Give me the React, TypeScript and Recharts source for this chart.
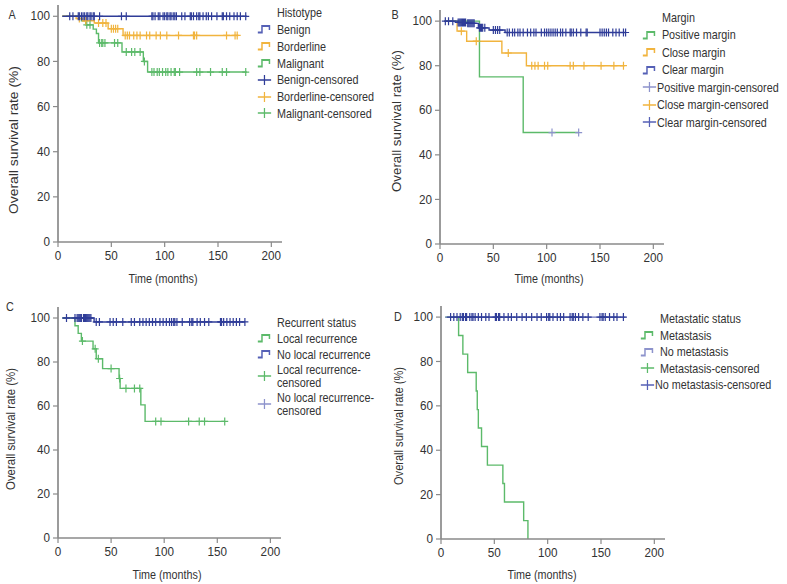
import React from 'react';
import { ComposedChart, Line, Scatter, XAxis, YAxis, Legend } from 'recharts';

type Pt = [number, number];

const FONT = '"Liberation Sans", Arial, sans-serif';
const NARROW = 0.83; // the source figure uses a condensed sans face
const BLUE = '#2f3c98';
const MIDBLUE = '#5560b6';
const LAVENDER = '#8d93cc';
const ORANGE = '#f1b43e';
const GREEN = '#5cba6a';
const AXIS = '#8a8a8a';
const TEXT = '#333333';

const xTicks = [0, 50, 100, 150, 200];
const yTicks = [0, 20, 40, 60, 80, 100];

// A – histotype (time in months, survival in %)
const benignSteps: Pt[] = [[4, 100], [177, 100]];
const benignCensor = [11, 14, 19, 20, 22, 23.5, 25, 27, 28, 30, 31, 33, 34, 39, 59.5, 64, 88, 89, 91, 94, 95.5, 98.5, 100, 102, 103, 105, 106, 108, 109.5, 111, 116, 119, 124, 125, 127, 130, 132, 133, 136, 139, 141, 144, 149, 154, 155, 158, 161, 165, 168, 171, 176];
const borderlineSteps: Pt[] = [[4, 100], [17, 99], [23, 98], [34, 97], [47, 94.5], [61, 91.5], [169, 91.5]];
const borderlineCensor = [20, 26, 38, 42, 45, 50, 52, 54, 56, 63, 65, 67, 71, 74, 77, 83, 86, 92, 96, 102, 113, 127, 128, 130, 158, 166, 168];
const malignantSteps: Pt[] = [[4, 100], [22, 98], [26, 96.2], [33, 94.3], [36, 92.4], [38, 88.2], [60, 84.2], [80, 80], [84, 75.3], [177, 75.3]];
const malignantCensor = [27, 30, 39, 41, 42, 44, 53, 56, 64, 69, 72, 77, 81, 88, 90, 93, 95, 98, 101, 103, 106, 109, 110, 114, 130, 133, 143, 154, 158, 176];

// B – margin
const positiveSteps: Pt[] = [[4, 100], [37, 75], [78, 50], [130, 50]];
const positiveCensor = [105, 130];
const closeSteps: Pt[] = [[4, 100], [16, 95.5], [25, 91], [58, 85.7], [81, 80], [173, 80]];
const closeCensor = [20, 34, 64, 86, 89, 92, 98, 101, 122, 125, 135, 151, 163, 172];
const clearSteps: Pt[] = [[4, 100], [17, 99.4], [25, 99], [36, 97], [46, 96], [61, 94.9], [174, 94.9]];
const clearCensor = [5, 8, 12, 17, 18, 19, 20, 21, 22, 23, 24, 26, 27, 28, 29, 30, 31, 32, 37, 38, 39, 40, 42, 50, 52, 54, 56, 63, 65, 68, 70, 73, 75, 78, 82, 85, 88, 90, 95, 98, 100, 102, 104, 106, 108, 110, 113, 115, 118, 122, 123, 125, 128, 132, 137, 138, 150, 152, 154, 156, 158, 162, 165, 168, 172, 174];

// C – recurrent status
const localSteps: Pt[] = [[4, 100], [16, 96.5], [19, 93], [22, 89.5], [33, 86], [36, 81.5], [42, 77], [57.5, 72.5], [58.5, 68], [78, 60.5], [82, 53], [157, 53]];
const localCensor = [23, 35, 38, 50, 58, 64, 72, 77, 92, 97, 123, 133, 138, 157];
const noLocalSteps: Pt[] = [[4, 100], [34, 98.2], [176, 98.2]];
const noLocalCensor = [8, 16, 18, 19, 20, 21, 22, 24, 25, 26, 27, 28, 29, 30, 31, 36, 39, 49, 52, 55, 61, 69, 72, 77, 80, 83, 86, 89, 92, 96, 99, 102, 105, 107, 109, 110, 112, 117, 124, 126, 127, 131, 134, 138, 142, 153, 154, 156, 159, 162, 165, 168, 171, 176];

// D – metastatic status
const metSteps: Pt[] = [[4, 100], [16.5, 91.7], [20.5, 83.3], [25, 75], [33, 66.7], [34, 58.3], [35, 50], [38, 41.7], [43.5, 33.3], [58, 25], [59.5, 16.7], [77.5, 8.3], [81.5, 0]];
const metCensor: number[] = [];
const noMetSteps: Pt[] = [[4, 100], [173, 100]];
const noMetCensor = [9, 12, 15, 18, 20, 21, 23, 24, 27, 29, 30, 32, 35, 38, 42, 45, 51, 52, 54, 55, 59, 63, 66, 71, 76, 80, 85, 90, 94, 99, 101, 102, 105, 109, 112, 115, 121, 123, 124, 126, 129, 133, 138, 149, 151, 152, 154, 158, 162, 165, 171];

const toRows = (steps: Pt[]) => steps.map(([t, s]) => ({ t, s }));
const stepAt = (steps: Pt[], t: number) => {
  let v = steps[0][1];
  for (const [x, s] of steps) if (x <= t) v = s;
  return v;
};
const markRows = (steps: Pt[], times: number[]) => times.map((t) => ({ t, s: stepAt(steps, t) }));

interface Curve { steps: Pt[]; color: string; censor: number[]; censorColor: string }
interface Item { label: string; kind: 'step' | 'cross'; color: string }
interface Panel {
  letter: string;
  box: { x: number; y: number; w: number; h: number; mt: number; pw: number; xh: number };
  curves: Curve[];
  title: string;
  items: Item[];
  rows: number[];
  legendAt: [number, number];
  letterAt: [number, number];
  yLab: [number, number, number];
  xLab: [number, number];
}

const panels: Panel[] = [
  {
    letter: 'A',
    box: { x: 0, y: 0, w: 385, h: 292, mt: 5, pw: 224, xh: 50 },
    curves: [
      { steps: malignantSteps, color: GREEN, censor: malignantCensor, censorColor: GREEN },
      { steps: borderlineSteps, color: ORANGE, censor: borderlineCensor, censorColor: ORANGE },
      { steps: benignSteps, color: BLUE, censor: benignCensor, censorColor: BLUE },
    ],
    title: 'Histotype',
    items: [
      { label: 'Benign', kind: 'step', color: MIDBLUE },
      { label: 'Borderline', kind: 'step', color: ORANGE },
      { label: 'Malignant', kind: 'step', color: GREEN },
      { label: 'Benign-censored', kind: 'cross', color: BLUE },
      { label: 'Borderline-censored', kind: 'cross', color: ORANGE },
      { label: 'Malignant-censored', kind: 'cross', color: GREEN },
    ],
    rows: [16.8, 16.8, 16.8, 16.8, 16.8, 16.8, 16.8],
    legendAt: [257, 4.3],
    letterAt: [12, 15],
    yLab: [13, 140, 148],
    xLab: [163, 279],
  },
  {
    letter: 'B',
    box: { x: 382, y: 0, w: 405, h: 294, mt: 10, pw: 224, xh: 50 },
    curves: [
      { steps: closeSteps, color: ORANGE, censor: closeCensor, censorColor: ORANGE },
      { steps: positiveSteps, color: GREEN, censor: positiveCensor, censorColor: LAVENDER },
      { steps: clearSteps, color: BLUE, censor: clearCensor, censorColor: BLUE },
    ],
    title: 'Margin',
    items: [
      { label: 'Positive margin', kind: 'step', color: GREEN },
      { label: 'Close margin', kind: 'step', color: ORANGE },
      { label: 'Clear margin', kind: 'step', color: MIDBLUE },
      { label: 'Positive margin-censored', kind: 'cross', color: LAVENDER },
      { label: 'Close margin-censored', kind: 'cross', color: ORANGE },
      { label: 'Clear margin-censored', kind: 'cross', color: MIDBLUE },
    ],
    rows: [17.5, 17.5, 17.5, 17.5, 17.5, 17.5, 17.5],
    legendAt: [642, 8.5],
    letterAt: [395, 15],
    yLab: [396, 121, 142],
    xLab: [549, 279],
  },
  {
    letter: 'C',
    box: { x: 0, y: 290, w: 385, h: 294, mt: 17, pw: 223, xh: 46 },
    curves: [
      { steps: localSteps, color: GREEN, censor: localCensor, censorColor: GREEN },
      { steps: noLocalSteps, color: BLUE, censor: noLocalCensor, censorColor: BLUE },
    ],
    title: 'Recurrent status',
    items: [
      { label: 'Local recurrence', kind: 'step', color: GREEN },
      { label: 'No local recurrence', kind: 'step', color: MIDBLUE },
      { label: 'Local recurrence-\ncensored', kind: 'cross', color: GREEN },
      { label: 'No local recurrence-\ncensored', kind: 'cross', color: LAVENDER },
    ],
    rows: [16, 16, 16, 28, 28],
    legendAt: [257, 314],
    letterAt: [10, 307],
    yLab: [10, 429, 122],
    xLab: [167, 575],
  },
  {
    letter: 'D',
    box: { x: 383, y: 290, w: 404, h: 294, mt: 16, pw: 224, xh: 45 },
    curves: [
      { steps: metSteps, color: GREEN, censor: metCensor, censorColor: GREEN },
      { steps: noMetSteps, color: '#6a72bd', censor: noMetCensor, censorColor: BLUE },
    ],
    title: 'Metastatic status',
    items: [
      { label: 'Metastasis', kind: 'step', color: GREEN },
      { label: 'No metastasis', kind: 'step', color: LAVENDER },
      { label: 'Metastasis-censored', kind: 'cross', color: GREEN },
      { label: 'No metastasis-censored', kind: 'cross', color: MIDBLUE },
    ],
    rows: [16.5, 16.5, 16.5, 16.5, 16.5],
    legendAt: [640, 310.7],
    letterAt: [398, 317],
    yLab: [398, 426, 118],
    xLab: [542, 575],
  },
];

const CensorMark = (props: any) => {
  const { cx, cy, color } = props;
  if (cx == null || cy == null) return null;
  return (
    <path d={`M${cx - 3.5},${cy}H${cx + 3.5}M${cx},${cy - 4}V${cy + 4}`} stroke={color} strokeWidth={1.2} fill="none" />
  );
};

const LegendIcon = ({ kind, color }: { kind: string; color: string }) =>
  kind === 'step' ? (
    <svg width={18} height={10}>
      <path d="M1,8.5H6V2H15V6" fill="none" stroke={color} strokeWidth={1.8} />
    </svg>
  ) : (
    <svg width={18} height={12}>
      <path d="M1,6H17M9,1V11" fill="none" stroke={color} strokeWidth={1.5} />
    </svg>
  );

// axis tick label squeezed horizontally like the source face
const makeTick = (anchor: 'middle' | 'end', dx: number, dy: number) => (props: any) => {
  const { x, y, payload } = props;
  return (
    <text
      transform={`translate(${x + dx},${y + dy}) scale(0.9,1)`}
      textAnchor={anchor}
      dominantBaseline="central"
      fill={TEXT}
      fontSize={13}
      fontFamily={FONT}
    >
      {payload.value}
    </text>
  );
};
const xTick = makeTick('middle', 0, 7);
const yTick = makeTick('end', -1, 0);

const KMPanel = ({ p }: { p: Panel }) => {
  const { box } = p;
  const rx = (x: number) => x - box.x;
  const ry = (y: number) => y - box.y;

  const renderLegend = () => (
    <div
      style={{
        fontFamily: FONT,
        fontSize: 13,
        color: TEXT,
        whiteSpace: 'nowrap',
        transform: `scaleX(${NARROW})`,
        transformOrigin: '0 0',
      }}
    >
      <div style={{ height: p.rows[0], display: 'flex', alignItems: 'center', paddingLeft: 24 }}>{p.title}</div>
      {p.items.map((it, i) => (
        <div key={it.label} style={{ height: p.rows[i + 1], display: 'flex', alignItems: 'center' }}>
          <span style={{ width: 24, display: 'flex', alignItems: 'center' }}>
            <LegendIcon kind={it.kind} color={it.color} />
          </span>
          <span style={{ lineHeight: '13px' }}>
            {it.label.split('\n').map((ln) => (
              <div key={ln}>{ln}</div>
            ))}
          </span>
        </div>
      ))}
    </div>
  );

  const xLabel = () => (
    <text
      transform={`translate(${rx(p.xLab[0])},${ry(p.xLab[1])}) scale(${NARROW},1)`}
      textAnchor="middle"
      dominantBaseline="central"
      fill={TEXT}
      fontSize={13}
      fontFamily={FONT}
    >
      Time (months)
    </text>
  );

  const yLabel = () => (
    <text
      transform={`translate(${rx(p.yLab[0])},${ry(p.yLab[1])}) rotate(-90)`}
      x={-p.yLab[2] / 2}
      y={0}
      textLength={p.yLab[2]}
      lengthAdjust="spacingAndGlyphs"
      dominantBaseline="central"
      fill={TEXT}
      fontSize={13}
      fontFamily={FONT}
    >
      Overall survival rate (%)
    </text>
  );

  return (
    <div style={{ position: 'absolute', left: box.x, top: box.y, width: box.w, height: box.h }}>
      <ComposedChart
        width={box.w}
        height={box.h}
        margin={{ top: box.mt, right: box.w - 58 - box.pw, bottom: 0, left: 0 }}
      >
        <XAxis
          type="number"
          dataKey="t"
          domain={[0, 210]}
          ticks={xTicks}
          interval={0}
          height={box.xh}
          axisLine={{ stroke: AXIS, strokeWidth: 1.7 }}
          tickLine={{ stroke: AXIS, strokeWidth: 1.2 }}
          tickSize={5}
          tick={xTick}
          label={{ content: xLabel }}
        />
        <YAxis
          type="number"
          dataKey="s"
          domain={[0, 105]}
          ticks={yTicks}
          interval={0}
          width={58}
          axisLine={{ stroke: AXIS, strokeWidth: 1.7 }}
          tickLine={{ stroke: AXIS, strokeWidth: 1.2 }}
          tickSize={5}
          tick={yTick}
          label={{ content: yLabel }}
        />
        {p.curves.map((c, i) => (
          <Line
            key={`line-${i}`}
            data={toRows(c.steps)}
            dataKey="s"
            type="stepAfter"
            stroke={c.color}
            strokeWidth={1.4}
            dot={false}
            activeDot={false}
            isAnimationActive={false}
            legendType="none"
          />
        ))}
        {p.curves.map((c, i) => (
          <Scatter
            key={`cens-${i}`}
            data={markRows(c.steps, c.censor)}
            dataKey="s"
            shape={(sp: any) => <CensorMark {...sp} color={c.censorColor} />}
            isAnimationActive={false}
            legendType="none"
          />
        ))}
        <Legend
          layout="horizontal"
          verticalAlign="middle"
          align="center"
          content={renderLegend}
          wrapperStyle={{ left: rx(p.legendAt[0]), top: ry(p.legendAt[1]), width: 150, height: 'auto' }}
        />
      </ComposedChart>
      <div
        style={{
          position: 'absolute',
          left: rx(p.letterAt[0]) - 8,
          top: ry(p.letterAt[1]) - 8,
          width: 16,
          height: 16,
          lineHeight: '16px',
          textAlign: 'center',
          fontFamily: FONT,
          fontSize: 13,
          color: TEXT,
          transform: `scaleX(${NARROW})`,
        }}
      >
        {p.letter}
      </div>
    </div>
  );
};

export default function App() {
  return (
    <div style={{ position: 'absolute', left: 0, top: 0, width: 787, height: 584, overflow: 'hidden', background: '#fff' }}>
      <style>{'body{margin:0;overflow:hidden;}'}</style>
      {panels.map((p) => (
        <KMPanel key={p.letter} p={p} />
      ))}
    </div>
  );
}
